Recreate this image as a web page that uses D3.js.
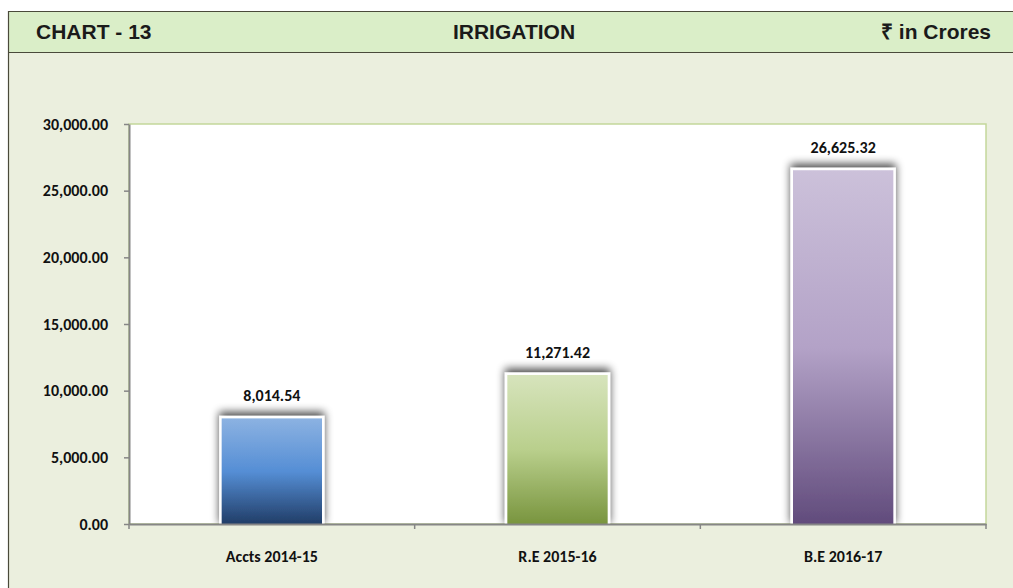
<!DOCTYPE html>
<html><head><meta charset="utf-8">
<script src="https://cdn.jsdelivr.net/npm/d3@7"></script>
<style>body{margin:0;background:#fff}svg{display:block}</style>
</head><body>
<script>
const categories = ["Accts 2014-15", "R.E 2015-16", "B.E 2016-17"];
const values = [8014.54, 11271.42, 26625.32];
const yTicks = [0, 5000, 10000, 15000, 20000, 25000, 30000];
const gradients = [
  ["#8db3e2", "#558ed5", "#1f3a63"],
  ["#d7e4bd", "#b9cf8c", "#77933c"],
  ["#ccc1da", "#b3a2c7", "#604a7b"]
];

const W = 1013, H = 588;
const svg = d3.select("body").append("svg").attr("width", W).attr("height", H);
const defs = svg.append("defs");

// background
svg.append("rect").attr("x", 8).attr("y", 11).attr("width", W - 8).attr("height", H - 11).attr("fill", "#ebefde");
svg.append("rect").attr("x", 8).attr("y", 11).attr("width", W - 8).attr("height", 41).attr("fill", "#daeec8");
svg.append("line").attr("x1", 8).attr("x2", W).attr("y1", 11.5).attr("y2", 11.5).attr("stroke", "#4a4a3a").attr("stroke-width", 1.2);
svg.append("line").attr("x1", 8).attr("x2", W).attr("y1", 52.5).attr("y2", 52.5).attr("stroke", "#4a4a3a").attr("stroke-width", 1.2);
svg.append("line").attr("x1", 8.5).attr("x2", 8.5).attr("y1", 11).attr("y2", H).attr("stroke", "#4a4a3a").attr("stroke-width", 1.2);

const hfont = "'Liberation Sans', Arial, sans-serif";
svg.append("text").attr("x", 36).attr("y", 39).text("CHART - 13")
  .attr("font-family", hfont).attr("font-weight", "bold").attr("font-size", 21).attr("fill", "#1a1a1a");
svg.append("text").attr("x", 514).attr("y", 39).attr("text-anchor", "middle").text("IRRIGATION")
  .attr("font-family", hfont).attr("font-weight", "bold").attr("font-size", 21).attr("fill", "#1a1a1a");
svg.append("text").attr("x", 991).attr("y", 39).attr("text-anchor", "end").text("₹ in Crores")
  .attr("font-family", hfont).attr("font-weight", "bold").attr("font-size", 21).attr("fill", "#1a1a1a");

const m = {l: 129, r: 986, t: 124, b: 524};
const x = d3.scaleBand().domain(categories).range([m.l, m.r]).paddingInner(0.64).paddingOuter(0.32);
const y = d3.scaleLinear().domain([0, 30000]).range([m.b, m.t]);

// plot area
svg.append("rect").attr("x", m.l).attr("y", m.t).attr("width", m.r - m.l).attr("height", m.b - m.t)
  .attr("fill", "#fff").attr("stroke", "#c4d79b").attr("stroke-width", 1.5);

// shadow filter
const f = defs.append("filter").attr("id", "sh").attr("x", "-30%").attr("y", "-30%").attr("width", "160%").attr("height", "140%");
f.append("feGaussianBlur").attr("in", "SourceAlpha").attr("stdDeviation", 4).attr("result", "b");
f.append("feOffset").attr("in", "b").attr("dy", -4).attr("result", "o");
f.append("feComponentTransfer").attr("in", "o").attr("result", "o2")
  .append("feFuncA").attr("type", "linear").attr("slope", 0.7);
const fm = f.append("feMerge");
fm.append("feMergeNode").attr("in", "o2");
fm.append("feMergeNode").attr("in", "SourceGraphic");

gradients.forEach((g, i) => {
  const lg = defs.append("linearGradient").attr("id", "g" + i).attr("x1", 0).attr("x2", 0).attr("y1", 0).attr("y2", 1);
  lg.append("stop").attr("offset", "0%").attr("stop-color", g[0]);
  lg.append("stop").attr("offset", "50%").attr("stop-color", g[1]);
  lg.append("stop").attr("offset", "100%").attr("stop-color", g[2]);
});

const data = categories.map((c, i) => ({c, v: values[i], i}));
const clip = defs.append("clipPath").attr("id", "pc");
clip.append("rect").attr("x", m.l).attr("y", 0).attr("width", m.r - m.l).attr("height", m.b);

svg.append("g").attr("clip-path", "url(#pc)").selectAll("rect.bar").data(data).join("rect")
  .attr("class", "bar")
  .attr("x", d => x(d.c)).attr("width", x.bandwidth())
  .attr("y", d => y(d.v)).attr("height", d => y(0) - y(d.v) + 2)
  .attr("fill", d => `url(#g${d.i})`).attr("stroke", "#fff").attr("stroke-width", 2.5)
  .attr("filter", "url(#sh)");

const lfont = "Carlito, 'Open Sans', 'Liberation Sans', sans-serif";
svg.selectAll("text.val").data(data).join("text").attr("class", "val")
  .attr("x", d => x(d.c) + x.bandwidth() / 2).attr("y", d => y(d.v) - 16)
  .attr("text-anchor", "middle").text(d => d3.format(",.2f")(d.v))
  .attr("font-family", lfont).attr("font-weight", "bold").attr("font-size", 16).attr("fill", "#111");

// axes
const ya = svg.append("g").attr("transform", `translate(${m.l},0)`)
  .call(d3.axisLeft(y).tickValues(yTicks).tickFormat(d3.format(",.2f")).tickSize(5).tickSizeOuter(0));
ya.select(".domain").attr("stroke", "#868686").attr("stroke-width", 2);
ya.selectAll(".tick line").attr("stroke", "#868686").attr("stroke-width", 1.5);
ya.selectAll("text").attr("x", -21).attr("font-family", lfont).attr("font-weight", "bold").attr("font-size", 16).attr("fill", "#111");

const xa = svg.append("g").attr("transform", `translate(0,${m.b})`)
  .call(d3.axisBottom(x).tickSize(0).tickSizeOuter(0));
xa.select(".domain").attr("stroke", "#868686").attr("stroke-width", 2);
xa.selectAll("text").attr("dy", 0).attr("y", 38).attr("font-family", lfont).attr("font-weight", "bold").attr("font-size", 16).attr("fill", "#111");
// category boundary ticks
const bounds = [0, 1, 2, 3].map(i => m.l + i * (m.r - m.l) / 3);
xa.selectAll("line.bt").data(bounds).join("line").attr("class", "bt")
  .attr("x1", d => d).attr("x2", d => d).attr("y1", 0).attr("y2", 5)
  .attr("stroke", "#868686").attr("stroke-width", 1.5);
</script>
</body></html>
